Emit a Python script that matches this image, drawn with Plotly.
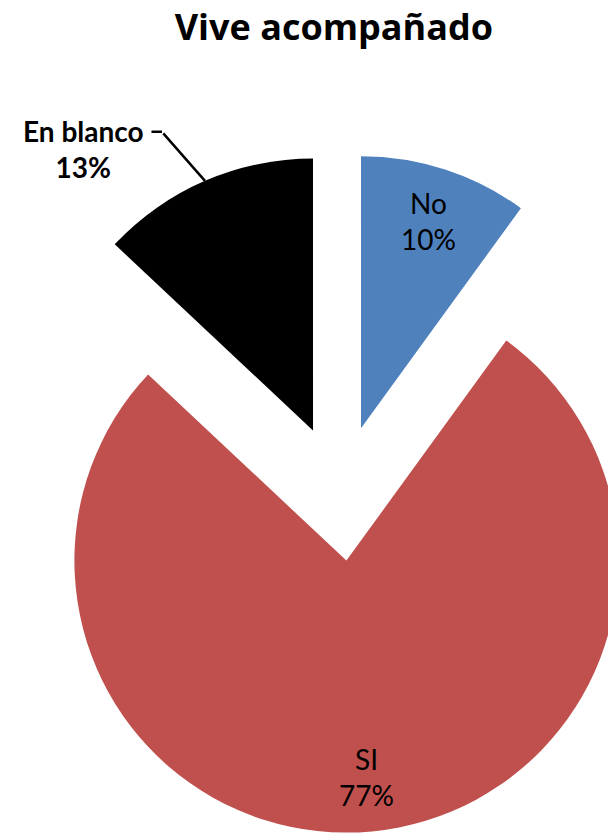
import math
import plotly.graph_objects as go

labels = ["No", "SI", "En blanco"]
values = [10, 77, 13]
colors = ["#4F81BD", "#C0504D", "#000000"]

W, H = 680, 834
dom_y = [0.0, 0.818]
pull = 0.25

# pie geometry in pixels (plotly: r = min(box) / (2 + 2*pull))
cx = W / 2
cy = H * (1 - (dom_y[0] + dom_y[1]) / 2)
R = min(W, H * (dom_y[1] - dom_y[0])) / (2 + 2 * pull)


def to_paper(px, py):
    return px / W, 1 - py / H


fig = go.Figure(go.Pie(
    labels=labels, values=values, sort=False, direction="clockwise",
    rotation=0, pull=pull, textinfo="none", hoverinfo="label+percent",
    marker=dict(colors=colors, line=dict(width=0)),
    domain=dict(x=[0, 1], y=dom_y), showlegend=False,
))

total = sum(values)
cum = 0
for lab, v in zip(labels, values):
    mid = math.radians((cum + v / 2) / total * 360)
    cum += v
    dx, dy = math.sin(mid), -math.cos(mid)
    pct = f"{round(v / total * 100)}%"
    if lab == "En blanco":
        tip = R * (1 + pull)
        tx, ty = cx + dx * tip, cy + dy * tip
        # leader line: slice edge -> elbow -> end of label
        x0, y0 = to_paper(tx, ty)
        fig.add_annotation(x=x0, y=y0, xref="paper", yref="paper", text="",
                           showarrow=True, ax=-43, ay=-49, arrowhead=0,
                           arrowwidth=2.5, arrowcolor="black")
        x1, y1 = to_paper(tx - 43, ty - 49)
        fig.add_annotation(x=x1, y=y1, xref="paper", yref="paper", text="",
                           showarrow=True, ax=-12, ay=0, arrowhead=0,
                           arrowwidth=2.5, arrowcolor="black")
        x2, y2 = to_paper(tx - 121, ty - 32)
        fig.add_annotation(
            x=x2, y=y2, xref="paper", yref="paper", xanchor="center",
            yanchor="middle", text=f"<b>{lab}</b><br><b>{pct}</b>",
            showarrow=False, font=dict(family="Lato", size=28, color="black"),
        )
    else:
        d = R * pull + 0.8 * R
        lx, ly = to_paper(cx + dx * d, cy + dy * d)
        fig.add_annotation(
            x=lx, y=ly, xref="paper", yref="paper", xanchor="center",
            yanchor="middle", text=f"{lab}<br>{pct}", showarrow=False,
            font=dict(family="Lato", size=28, color="black"),
        )

fig.update_layout(
    width=W, height=H, margin=dict(l=0, r=0, t=0, b=0),
    paper_bgcolor="white", plot_bgcolor="white",
    title=dict(text="<b>Vive acompañado</b>", x=0.491, xanchor="center",
               y=1 - 27 / H, yanchor="middle",
               font=dict(family="Open Sans", size=36, color="black")),
)

fig.write_html("out.html",
               post_script="document.body.style.margin='0';"
                           "document.body.style.overflow='hidden';")
